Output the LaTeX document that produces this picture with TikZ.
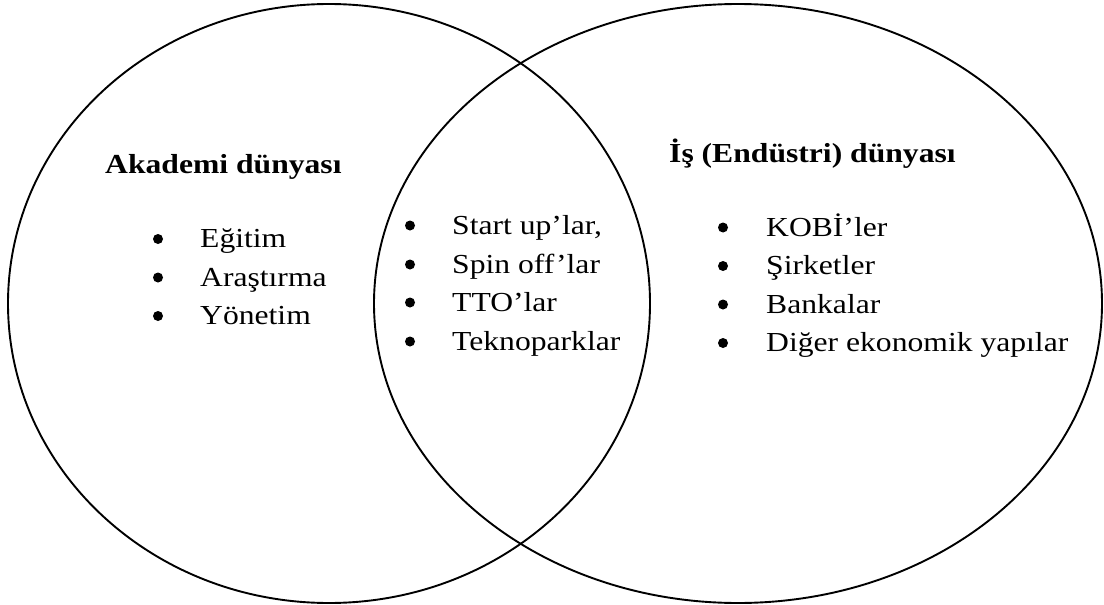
\documentclass[tikz,border=0pt]{standalone}
\usepackage{fontspec}
\setmainfont{Liberation Serif}
\newcommand{\genis}[1]{\scalebox{1.15}[1]{#1}}
\begin{document}
\begin{tikzpicture}[x=1pt,y=-1pt,
    daire/.style={line width=1.9pt},
    yazi/.style={font=\fontsize{27.5}{38.5}\selectfont,inner sep=0pt,anchor=base west},
    baslik/.style={yazi,font=\fontsize{27.5}{38.5}\selectfont\bfseries},
    nokta/.style={circle,fill,inner sep=0pt,minimum size=10pt}]
    \useasboundingbox (0,0) rectangle (1104,605);
    % iki dunya
    \draw[daire] (329,303.5) ellipse (321 and 299.5);
    \draw[daire] (738,303.5) ellipse (364 and 299.5);
    % akademi
    \node[baslik] (akademi) at (105,173) {\genis{Akademi dünyası}};
    \node[nokta] (a1) at (158,239) {};
    \node[yazi] (egitim) at (200,247.5) {\genis{Eğitim}};
    \node[nokta] (a2) at (158,277.5) {};
    \node[yazi] (arastirma) at (200,286) {\genis{Araştırma}};
    \node[nokta] (a3) at (158,316) {};
    \node[yazi] (yonetim) at (200,324.5) {\genis{Yönetim}};
    % kesisim
    \node[nokta] (k1) at (410,225.5) {};
    \node[yazi] (startup) at (452,234) {\genis{Start up’lar,}};
    \node[nokta] (k2) at (410,264.5) {};
    \node[yazi] (spinoff) at (452,273) {\genis{Spin off’lar}};
    \node[nokta] (k3) at (410,302.5) {};
    \node[yazi] (tto) at (452,311) {\genis{TTO’lar}};
    \node[nokta] (k4) at (410,341.5) {};
    \node[yazi] (tekno) at (452,350) {\genis{Teknoparklar}};
    % is dunyasi
    \node[baslik] (is) at (669,162) {\genis{İş (Endüstri) dünyası}};
    \node[nokta] (i1) at (723,227.5) {};
    \node[yazi] (kobi) at (766,236) {\genis{KOBİ’ler}};
    \node[nokta] (i2) at (723,266) {};
    \node[yazi] (sirket) at (766,274.5) {\genis{Şirketler}};
    \node[nokta] (i3) at (723,304.5) {};
    \node[yazi] (banka) at (766,313) {\genis{Bankalar}};
    \node[nokta] (i4) at (723,343) {};
    \node[yazi] (diger) at (766,351.5) {\genis{Diğer ekonomik yapılar}};
\end{tikzpicture}
\end{document}
